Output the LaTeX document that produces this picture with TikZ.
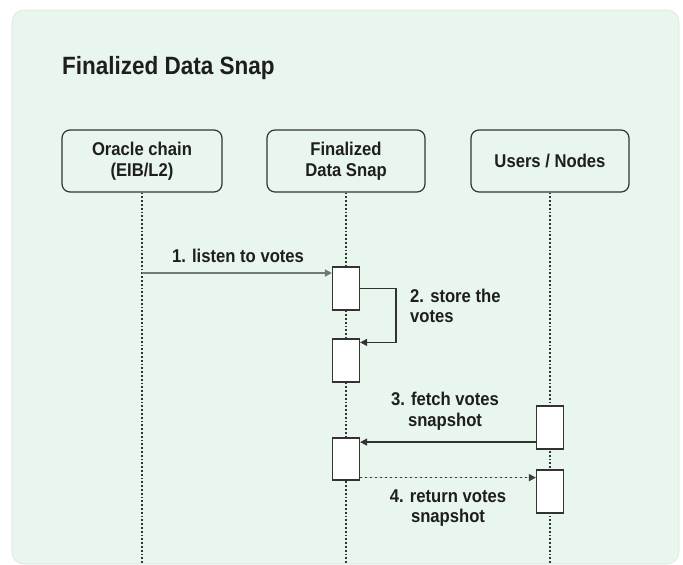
\documentclass[tikz,border=0pt]{standalone}
\usepackage{fontspec}
\setmainfont[FakeStretch=0.9]{Liberation Sans}
\usetikzlibrary{arrows.meta}

\definecolor{panelfill}{HTML}{E9F6EE}
\definecolor{panelline}{HTML}{DCE4DF}
\definecolor{ink}{HTML}{1E1E1E}
\definecolor{edge}{HTML}{333333}
\definecolor{msggray}{HTML}{6E7A73}

\tikzset{
  actor/.style={draw=edge, line width=1.2pt, fill=panelfill, rounded corners=8pt,
    minimum width=158pt, minimum height=62pt, align=center, text=ink,
    font=\bfseries\fontsize{18.5}{20.5}\selectfont, inner sep=0pt},
  activation/.style={draw=edge, line width=1.2pt, fill=white,
    minimum width=27pt, minimum height=43pt, inner sep=0pt},
  lifeline/.style={draw=edge, line width=1.2pt, dash pattern=on 1.7pt off 2.1pt},
  msglabel/.style={text=ink, font=\bfseries\fontsize{18.5}{20.5}\selectfont, inner sep=0pt},
  tip/.style={-{Triangle[length=7pt,width=7pt]}},
}

\begin{document}
\begin{tikzpicture}[x=1pt, y=-1pt]
  \useasboundingbox (0,0) rectangle (683,565);

  % background panel
  \path[fill=panelfill, draw=panelline, line width=0.6pt, rounded corners=12pt]
    (12,10) rectangle (679,564);

  % title
  \node[anchor=base west, text=ink, inner sep=0pt,
        font=\bfseries\fontsize{25}{30}\selectfont] (title) at (62,74) {Finalized Data Snap};

  % participants
  \node[actor, minimum width=160pt] (oracle) at (142,161) {Oracle chain\\(EIB/L2)};
  \node[actor] (snap)  at (346,161) {Finalized\\Data Snap};
  \node[actor] (users) at (550,161) {Users / Nodes};

  % lifeline ends
  \coordinate (oracleEnd) at (142,565);
  \coordinate (snapEnd)   at (346,565);
  \coordinate (usersEnd)  at (550,565);

  \draw[lifeline] (oracle.south) -- (oracleEnd);
  \draw[lifeline] (snap.south)   -- (snapEnd);
  \draw[lifeline] (users.south)  -- (usersEnd);

  % activation bars
  \node[activation] (actA) at (346,288.5) {};
  \node[activation] (actB) at (346,360.5) {};
  \node[activation, minimum height=42pt] (actC) at (346,459) {};
  \node[activation] (actD) at (550,427.5) {};
  \node[activation] (actE) at (550,491.5) {};

  % 1. listen to votes
  \coordinate (listenStart) at (142,273);
  \draw[tip, draw=msggray, fill=edge, line width=1.8pt] (listenStart) -- (listenStart -| actA.west);
  \node[msglabel, anchor=base] (l1) at (238,262) {1. listen to votes};

  % 2. store the votes (self call)
  \draw[tip, draw=edge, line width=1.3pt]
    (actA.east) -- ++(36,0) |- ([yshift=-4pt]actB.north east);
  \node[msglabel, anchor=west, align=left] (l2) at (410,306) {2. store the\\votes};

  % 3. fetch votes snapshot
  \draw[tip, draw=edge, line width=1.3pt]
    ([yshift=7.5pt]actD.south west) -- ([yshift=7.5pt]actD.south west -| actC.east);
  \node[msglabel, align=center] (l3) at (445,411) {3. fetch votes\\snapshot};

  % 4. return votes snapshot
  \draw[tip, draw=edge!85!msggray, fill=edge, line width=1.6pt, dash pattern=on 2pt off 3pt]
    ([yshift=3pt]actC.south east) -- ([yshift=3pt]actC.south east -| actE.west);
  \node[msglabel, align=center] (l4) at (448,508) {4. return votes\\snapshot};
\end{tikzpicture}
\end{document}
